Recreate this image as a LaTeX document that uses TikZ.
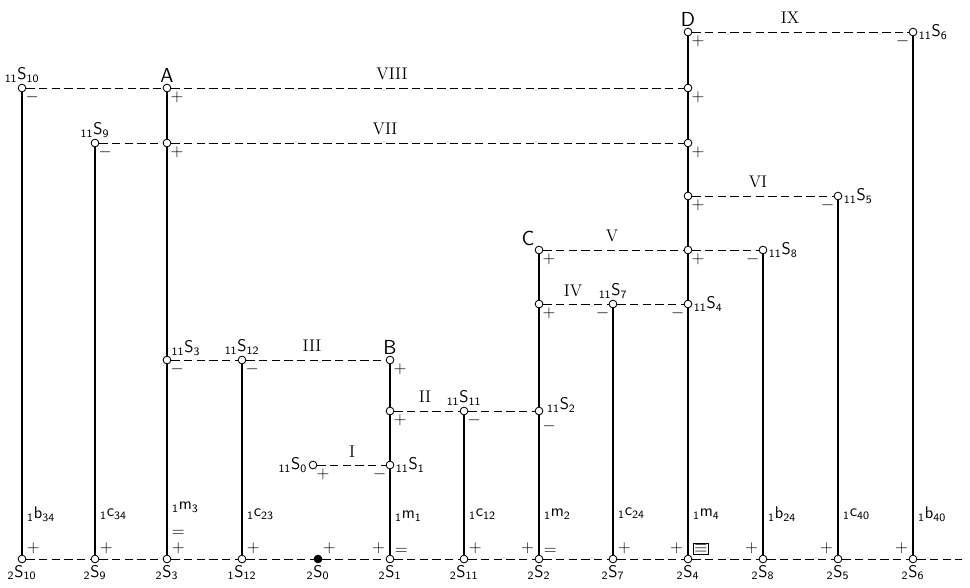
\documentclass[tikz,border=0pt]{standalone}
\usepackage{tikz}
\usetikzlibrary{positioning}
\setlength{\fboxsep}{0.6pt}
\newcommand{\pn}[3]{${}_{\mathsf{#1}}\mathsf{#2}_{\mathsf{#3}}$}
\tikzset{
  jn/.style={circle, draw, fill=white, line width=0.6pt, inner sep=0pt, minimum size=5.5pt},
  wire/.style={line width=1.6pt},                                % solid branch
  tie/.style={line width=0.55pt, dash pattern=on 6pt off 3pt},   % dashed link
  pname/.style={font=\sffamily\large, inner sep=1pt},
  pbig/.style={font=\sffamily\Large, inner sep=1pt},
  sgn/.style={font=\large, inner sep=0.3pt},
  rom/.style={font=\large, inner sep=1pt},
  wlbl/.style={anchor=west, xshift=2.5pt, font=\sffamily\large, inner sep=1pt},
  node distance=1.2pt,
}
\begin{document}
\begin{tikzpicture}[x=0.025cm, y=-0.025cm]
  \useasboundingbox (0,0) rectangle (970,587);
  \def\cA{22}\def\cB{95}\def\cC{167}\def\cD{242}\def\cE{318}\def\cF{390}\def\cG{464}
  \def\cH{539}\def\cI{613}\def\cJ{688}\def\cK{763}\def\cL{838}\def\cM{913}
  \def\yIX{32}\def\yVIII{88}\def\yVII{143}\def\yVI{196}\def\yV{250}\def\yIV{304}
  \def\yIII{360}\def\yII{411}\def\yI{465}\def\yB{559}

  % bottom row
  \foreach \x/\n/\i/\j in {\cA/t10/2/10, \cB/t9/2/9, \cC/t3/2/3, \cD/t12/1/12,
      \cF/t1/2/1, \cG/t11/2/11, \cH/t2/2/2, \cI/t7/2/7, \cJ/t4/2/4,
      \cK/t8/2/8, \cL/t5/2/5, \cM/t6/2/6}
    \node[jn, label={[pname, label distance=0.5pt]below:\pn{\i}{S}{\j}}] (\n) at (\x,\yB) {};
  \node[jn, fill=black, label={[pname, label distance=0.5pt]below:\pn{2}{S}{0}}] (t0) at (\cE,\yB) {};
  \coordinate (bend) at (962,\yB);

  % upper junctions
  \node[jn, label={[pname]above:\pn{11}{S}{10}}] (s10) at (\cA,\yVIII) {};
  \node[jn, label={[pname]above:\pn{11}{S}{9}}] (s9) at (\cB,\yVII) {};
  \node[jn, label={[pbig]above:A}] (A) at (\cC,\yVIII) {};
  \node[jn] (a7) at (\cC,\yVII) {};
  \node[jn, label={[pname]above right:\pn{11}{S}{3}}] (s3) at (\cC,\yIII) {};
  \node[jn, label={[pname]above:\pn{11}{S}{12}}] (s12) at (\cD,\yIII) {};
  \node[jn, label={[pname]left:\pn{11}{S}{0}}] (s0) at (313,\yI) {};
  \node[jn, label={[pbig]above:B}] (B) at (\cF,\yIII) {};
  \node[jn] (b2) at (\cF,\yII) {};
  \node[jn, label={[pname]right:\pn{11}{S}{1}}] (s1) at (\cF,\yI) {};
  \node[jn, label={[pname]above:\pn{11}{S}{11}}] (s11) at (\cG,\yII) {};
  \node[jn, label={[pbig]above left:C}] (C) at (\cH,\yV) {};
  \node[jn] (c4) at (\cH,\yIV) {};
  \node[jn] (s2) at (\cH,\yII) {};
  \node[pname, anchor=west] (ns2) at ([xshift=1.5pt,yshift=4pt]s2.east) {\pn{11}{S}{2}};
  \node[jn, label={[pname]above:\pn{11}{S}{7}}] (s7) at (\cI,\yIV) {};
  \node[jn, label={[pbig]above:D}] (D) at (\cJ,\yIX) {};
  \node[jn] (d8) at (\cJ,\yVIII) {};
  \node[jn] (d7) at (\cJ,\yVII) {};
  \node[jn] (d6) at (\cJ,\yVI) {};
  \node[jn] (d5) at (\cJ,\yV) {};
  \node[jn, label={[pname]right:\pn{11}{S}{4}}] (s4) at (\cJ,\yIV) {};
  \node[jn, label={[pname]right:\pn{11}{S}{8}}] (s8) at (\cK,\yV) {};
  \node[jn, label={[pname]right:\pn{11}{S}{5}}] (s5) at (\cL,\yVI) {};
  \node[jn, label={[pname]right:\pn{11}{S}{6}}] (s6) at (\cM,\yIX) {};

  % signs at the upper junctions
  \node[sgn, below right=0pt of s10] (m10) {$-$};
  \node[sgn, below right=0pt of s9] (m9) {$-$};
  \node[sgn, below right=0pt of A] (pA) {$+$};
  \node[sgn, below right=0pt of a7] (pa7) {$+$};
  \node[sgn, below right=0pt of s3] (m3) {$-$};
  \node[sgn, below right=0pt of s12] (m12) {$-$};
  \node[sgn, below right=0pt of s0] (p0) {$+$};
  \node[sgn, below right=0pt of B] (pB) {$+$};
  \node[sgn, below right=0pt of b2] (pb2) {$+$};
  \node[sgn, below left=0pt of s1] (m1) {$-$};
  \node[sgn, below right=0pt of s11] (m11) {$-$};
  \node[sgn, below right=0pt of C] (pC) {$+$};
  \node[sgn, below right=0pt of c4] (pc4) {$+$};
  \node[sgn, below right=4pt and 0pt of s2] (m2) {$-$};
  \node[sgn, below left=0pt of s7] (m7) {$-$};
  \node[sgn, below right=0pt of D] (pD) {$+$};
  \node[sgn, below right=0pt of d8] (pd8) {$+$};
  \node[sgn, below right=0pt of d7] (pd7) {$+$};
  \node[sgn, below right=0pt of d6] (pd6) {$+$};
  \node[sgn, below right=0pt of d5] (pd5) {$+$};
  \node[sgn, below left=0pt of s4] (m4) {$-$};
  \node[sgn, below left=0pt of s8] (m8) {$-$};
  \node[sgn, below left=0pt of s5] (m5) {$-$};
  \node[sgn, below left=0pt of s6] (m6) {$-$};

  % signs at the bottom row
  \node[sgn, above right=of t10] (q10) {$+$};
  \node[sgn, above right=of t9] (q9) {$+$};
  \node[sgn, above right=of t3] (q3) {$+$};
  \node[sgn, above=4pt of q3] (e3) {$=$};
  \node[sgn, above right=of t12] (q12) {$+$};
  \node[sgn, above right=of t0] (q0) {$+$};
  \node[sgn, above left=of t1] (q1) {$+$};
  \node[sgn, above right=of t1] (e1) {$=$};
  \node[sgn, above right=of t11] (q11) {$+$};
  \node[sgn, above left=of t2] (q2) {$+$};
  \node[sgn, above right=of t2] (e2) {$=$};
  \node[sgn, above right=of t7] (q7) {$+$};
  \node[sgn, above left=of t4] (q4) {$+$};
  \node[sgn, above right=of t4] (e4) {\fbox{$\equiv$}};
  \node[sgn, above left=of t8] (q8) {$+$};
  \node[sgn, above left=of t5] (q5) {$+$};
  \node[sgn, above left=of t6] (q6) {$+$};

  % branch labels
  \node[wlbl] (w10) at (\cA,514) {\pn{1}{b}{34}};
  \node[wlbl] (w9) at (\cB,514) {\pn{1}{c}{34}};
  \node[wlbl] (w3) at (\cC,507) {\pn{1}{m}{3}};
  \node[wlbl] (w12) at (\cD,514) {\pn{1}{c}{23}};
  \node[wlbl] (w1) at (\cF,516) {\pn{1}{m}{1}};
  \node[wlbl] (w11) at (\cG,514) {\pn{1}{c}{12}};
  \node[wlbl] (w2) at (\cH,514) {\pn{1}{m}{2}};
  \node[wlbl] (w7) at (\cI,513) {\pn{1}{c}{24}};
  \node[wlbl] (w4) at (\cJ,514) {\pn{1}{m}{4}};
  \node[wlbl] (w8) at (\cK,514) {\pn{1}{b}{24}};
  \node[wlbl] (w5) at (\cL,514) {\pn{1}{c}{40}};
  \node[wlbl] (w6) at (\cM,514) {\pn{1}{b}{40}};

  % link numbers
  \node[rom] (nIX) at (790,18) {IX};
  \node[rom] (nVIII) at (392,74) {VIII};
  \node[rom] (nVII) at (385,129) {VII};
  \node[rom] (nVI) at (758,182) {VI};
  \node[rom] (nV) at (612,236) {V};
  \node[rom] (nIV) at (573,291) {IV};
  \node[rom] (nIII) at (312,346) {III};
  \node[rom] (nII) at (425,397) {II};
  \node[rom] (nI) at (352,452) {I};

  % solid branches
  \draw[wire] (t10) -- (s10);
  \draw[wire] (t9) -- (s9);
  \draw[wire] (t3) -- (s3) -- (a7) -- (A);
  \draw[wire] (t12) -- (s12);
  \draw[wire] (t1) -- (s1) -- (b2) -- (B);
  \draw[wire] (t11) -- (s11);
  \draw[wire] (t2) -- (s2) -- (c4) -- (C);
  \draw[wire] (t7) -- (s7);
  \draw[wire] (t4) -- (s4) -- (d5) -- (d6) -- (d7) -- (d8) -- (D);
  \draw[wire] (t8) -- (s8);
  \draw[wire] (t5) -- (s5);
  \draw[wire] (t6) -- (s6);

  % dashed links
  \draw[tie] (D) -- (s6);
  \draw[tie] (s10) -- (A) -- (d8);
  \draw[tie] (s9) -- (a7) -- (d7);
  \draw[tie] (d6) -- (s5);
  \draw[tie] (C) -- (d5) -- (s8);
  \draw[tie] (c4) -- (s7) -- (s4);
  \draw[tie] (s3) -- (s12) -- (B);
  \draw[tie] (b2) -- (s11) -- (s2);
  \draw[tie] (s0) -- (s1);
  \draw[tie] (t10) -- (t9) -- (t3) -- (t12) -- (t0) -- (t1) -- (t11) -- (t2)
    -- (t7) -- (t4) -- (t8) -- (t5) -- (t6) -- (bend);
\end{tikzpicture}
\end{document}
